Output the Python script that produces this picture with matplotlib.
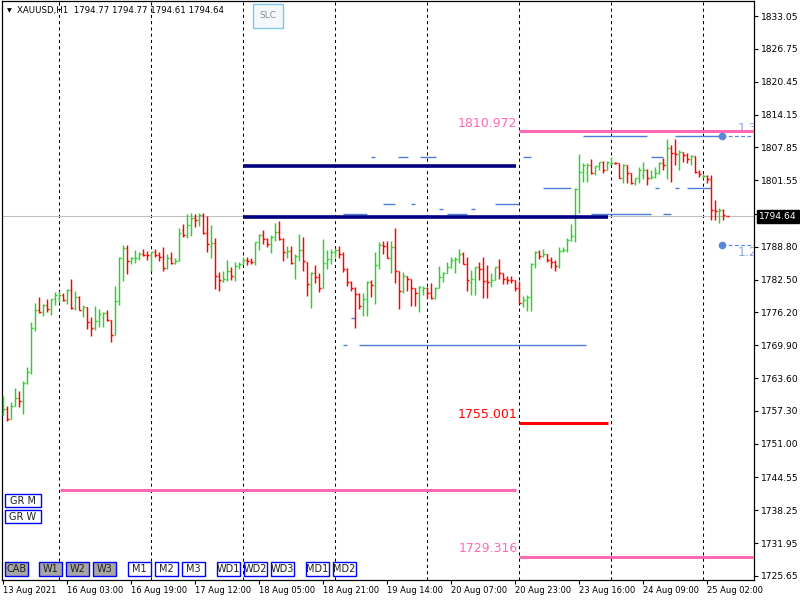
import matplotlib
matplotlib.use("Agg")
import matplotlib.pyplot as plt
import matplotlib.transforms as mtransforms
from matplotlib.collections import LineCollection
from matplotlib.patches import Rectangle

# ── XAUUSD H1 bars (index 0 = first visible bar) ─────────────────────────
opens = [
    1756.8, 1757.6, 1755.8, 1758.3, 1759.7, 1759.2, 1762.7, 1764.7, 1773.3, 1776.6,
    1776.3, 1777.6, 1776.8, 1778.7, 1778.9, 1779.5, 1778.6, 1780.5, 1777.0, 1779.2,
    1776.7, 1777.2, 1774.4, 1773.2, 1774.6, 1775.4, 1776.0, 1774.7, 1771.9, 1778.3,
    1786.6, 1788.5, 1786.0, 1786.6, 1786.7, 1787.5, 1787.3, 1787.2, 1787.7, 1787.3,
    1786.8, 1784.8, 1786.6, 1785.7, 1786.1, 1792.0, 1791.0, 1792.9, 1794.4, 1793.9,
    1794.8, 1791.5, 1789.0, 1789.5, 1783.2, 1782.3, 1782.6, 1784.1, 1783.1, 1785.1,
    1785.4, 1786.3, 1786.1, 1785.9, 1789.8, 1791.1, 1790.3, 1789.3, 1790.7, 1791.6,
    1790.2, 1787.7, 1788.0, 1785.6, 1787.0, 1788.1, 1785.8, 1781.6, 1783.8, 1782.9,
    1780.8, 1785.6, 1786.4, 1787.7, 1788.2, 1787.4, 1784.5, 1782.0, 1780.8, 1779.8,
    1777.4, 1778.7, 1782.0, 1781.4, 1785.2, 1789.2, 1788.9, 1786.7, 1788.7, 1784.1,
    1780.4, 1783.1, 1782.6, 1780.8, 1780.0, 1780.5, 1780.9, 1780.0, 1778.9, 1780.9,
    1782.9, 1783.8, 1785.0, 1786.2, 1786.4, 1787.5, 1785.5, 1782.0, 1782.6, 1785.0,
    1784.5, 1782.2, 1782.0, 1782.4, 1784.9, 1783.7, 1782.6, 1782.5, 1782.4, 1780.8,
    1778.1, 1778.6, 1779.1, 1785.5, 1787.7, 1787.1, 1787.5, 1786.2, 1785.9, 1785.1,
    1788.0, 1788.2, 1790.1, 1790.9, 1799.8, 1803.1, 1803.0, 1804.5, 1803.0, 1804.2,
    1805.0, 1803.6, 1804.6, 1804.9, 1804.8, 1801.9, 1804.4, 1803.0, 1801.0, 1801.9,
    1802.5, 1803.5, 1801.9, 1802.1, 1803.0, 1804.8, 1804.5, 1807.7, 1806.7, 1806.6,
    1807.0, 1806.4, 1805.6, 1806.2, 1803.2, 1802.2, 1802.4, 1801.7, 1795.8, 1795.7,
    1795.9, 1794.77,
]
highs = [
    1760.2, 1758.3, 1759.1, 1761.8, 1761.1, 1763.0, 1765.8, 1774.4, 1778.1, 1779.2,
    1777.8, 1778.8, 1778.8, 1780.1, 1780.4, 1779.9, 1780.6, 1782.6, 1780.4, 1779.3,
    1777.6, 1777.2, 1775.4, 1777.4, 1776.8, 1776.2, 1776.6, 1774.8, 1781.3, 1786.8,
    1789.2, 1789.2, 1786.9, 1788.2, 1787.7, 1788.3, 1788.0, 1787.7, 1788.3, 1787.7,
    1788.7, 1787.5, 1787.7, 1786.7, 1792.4, 1793.2, 1795.0, 1795.2, 1795.1, 1795.3,
    1795.3, 1794.6, 1793.0, 1790.5, 1784.0, 1784.1, 1786.2, 1784.9, 1785.8, 1785.9,
    1786.8, 1786.8, 1786.6, 1789.8, 1791.3, 1792.1, 1790.5, 1791.1, 1793.3, 1793.7,
    1790.5, 1788.9, 1788.9, 1787.4, 1791.2, 1790.7, 1785.9, 1783.9, 1785.3, 1783.8,
    1790.3, 1788.2, 1788.4, 1788.5, 1788.9, 1787.7, 1784.7, 1782.2, 1781.0, 1779.9,
    1779.9, 1782.2, 1782.4, 1787.8, 1789.7, 1789.9, 1789.9, 1789.9, 1792.3, 1784.2,
    1783.9, 1783.2, 1782.7, 1780.8, 1781.3, 1781.3, 1781.0, 1781.9, 1781.0, 1785.1,
    1783.9, 1785.8, 1786.9, 1786.8, 1788.4, 1787.7, 1786.8, 1784.4, 1785.0, 1785.9,
    1786.8, 1785.3, 1783.7, 1785.0, 1786.5, 1783.7, 1783.1, 1783.2, 1782.5, 1782.2,
    1779.4, 1779.6, 1785.7, 1788.0, 1788.2, 1788.4, 1787.5, 1786.8, 1786.3, 1788.7,
    1788.7, 1790.5, 1793.2, 1800.0, 1806.5, 1804.8, 1804.8, 1805.6, 1804.3, 1805.1,
    1805.3, 1805.2, 1806.1, 1805.1, 1804.9, 1804.6, 1804.4, 1803.0, 1801.9, 1804.0,
    1805.0, 1803.8, 1803.5, 1804.0, 1805.0, 1805.8, 1809.4, 1808.3, 1809.4, 1807.4,
    1807.0, 1806.7, 1806.4, 1806.2, 1803.5, 1802.7, 1802.6, 1802.6, 1797.8, 1796.2,
    1796.0, 1794.77,
]
lows = [
    1756.5, 1755.4, 1755.8, 1758.3, 1758.1, 1756.8, 1762.4, 1764.4, 1772.6, 1776.1,
    1775.6, 1776.3, 1775.8, 1777.7, 1778.2, 1778.3, 1777.9, 1776.9, 1776.7, 1776.6,
    1775.3, 1773.0, 1771.7, 1772.8, 1773.4, 1773.4, 1774.5, 1770.6, 1771.8, 1777.6,
    1782.3, 1783.6, 1785.4, 1785.6, 1786.3, 1787.1, 1786.3, 1784.1, 1786.8, 1786.1,
    1784.2, 1784.6, 1785.5, 1785.4, 1786.0, 1790.7, 1790.5, 1790.9, 1792.5, 1792.8,
    1791.2, 1787.8, 1786.6, 1780.7, 1780.4, 1782.1, 1782.2, 1782.4, 1782.2, 1784.6,
    1785.4, 1785.2, 1785.5, 1785.3, 1788.1, 1789.4, 1788.7, 1787.6, 1789.9, 1790.0,
    1786.1, 1786.7, 1785.4, 1782.7, 1786.1, 1784.2, 1779.4, 1777.1, 1781.9, 1780.2,
    1780.8, 1784.6, 1785.5, 1786.9, 1786.7, 1784.0, 1781.3, 1780.4, 1773.2, 1776.9,
    1775.6, 1775.6, 1779.2, 1777.8, 1784.6, 1787.5, 1786.7, 1783.7, 1781.9, 1776.9,
    1780.0, 1780.4, 1777.5, 1777.5, 1776.2, 1779.5, 1779.0, 1778.8, 1778.8, 1780.8,
    1782.0, 1783.7, 1784.8, 1783.7, 1785.6, 1785.5, 1780.4, 1779.5, 1779.5, 1782.4,
    1779.0, 1779.0, 1781.1, 1782.4, 1782.7, 1781.7, 1781.7, 1781.8, 1780.3, 1778.0,
    1777.2, 1776.4, 1776.4, 1784.7, 1786.4, 1786.8, 1785.8, 1784.7, 1784.2, 1784.7,
    1787.7, 1787.7, 1789.9, 1789.8, 1795.3, 1801.3, 1801.3, 1802.8, 1802.6, 1803.5,
    1803.0, 1803.5, 1804.6, 1804.6, 1801.9, 1801.1, 1801.1, 1800.8, 1800.6, 1801.1,
    1801.7, 1800.6, 1801.7, 1802.0, 1802.7, 1803.5, 1801.7, 1801.3, 1804.4, 1803.6,
    1805.1, 1804.8, 1804.5, 1803.0, 1802.2, 1801.9, 1801.0, 1793.9, 1793.9, 1793.4,
    1793.9, 1794.61,
]
closes = [
    1757.6, 1755.8, 1758.3, 1759.7, 1759.2, 1762.7, 1764.7, 1773.3, 1776.6, 1776.3,
    1777.6, 1776.8, 1778.7, 1779.5, 1779.5, 1778.6, 1780.5, 1777.0, 1779.2, 1776.7,
    1777.2, 1774.4, 1773.2, 1774.6, 1775.9, 1776.0, 1774.7, 1771.9, 1778.3, 1786.6,
    1788.5, 1786.0, 1786.6, 1786.7, 1787.5, 1787.3, 1787.2, 1787.7, 1787.3, 1786.8,
    1784.8, 1786.6, 1785.7, 1786.1, 1791.4, 1791.0, 1792.9, 1794.4, 1793.9, 1794.8,
    1791.5, 1789.4, 1789.5, 1783.2, 1782.5, 1782.6, 1784.1, 1783.1, 1785.1, 1785.4,
    1786.3, 1786.1, 1785.9, 1789.8, 1791.1, 1790.3, 1789.3, 1790.7, 1791.6, 1790.2,
    1787.7, 1788.0, 1785.6, 1787.0, 1788.1, 1786.0, 1781.6, 1783.8, 1782.9, 1780.8,
    1785.6, 1786.4, 1787.7, 1788.2, 1787.4, 1784.5, 1782.0, 1780.8, 1779.8, 1777.4,
    1778.7, 1782.0, 1781.4, 1785.2, 1789.1, 1788.9, 1786.7, 1788.7, 1784.1, 1780.4,
    1783.1, 1782.6, 1780.8, 1780.0, 1781.1, 1780.9, 1780.0, 1778.9, 1780.9, 1782.9,
    1783.8, 1785.0, 1786.2, 1786.4, 1787.5, 1785.5, 1782.4, 1782.6, 1785.0, 1784.5,
    1782.2, 1782.0, 1782.4, 1784.9, 1783.7, 1782.6, 1782.5, 1782.4, 1780.8, 1778.1,
    1778.6, 1779.1, 1785.5, 1787.7, 1787.1, 1787.5, 1786.2, 1785.9, 1785.1, 1788.0,
    1788.2, 1790.1, 1790.9, 1799.8, 1803.1, 1804.5, 1804.5, 1803.0, 1804.2, 1805.0,
    1803.6, 1805.0, 1804.8, 1804.8, 1801.9, 1804.4, 1803.0, 1801.0, 1801.9, 1803.6,
    1803.5, 1801.9, 1802.1, 1803.0, 1804.8, 1804.5, 1807.7, 1806.7, 1806.6, 1807.0,
    1806.4, 1805.6, 1806.2, 1803.2, 1802.7, 1802.4, 1801.7, 1795.8, 1795.7, 1795.9,
    1794.9, 1794.64,
]

last_price = 1794.64
header = "XAUUSD,H1  1794.77 1794.77 1794.61 1794.64"

day_starts = [14, 37, 60, 83, 106, 129, 152, 175]
date_ticks = [0, 16, 32, 48, 64, 80, 96, 112, 128, 144, 160, 176]
date_labels = ["13 Aug 2021", "16 Aug 03:00", "16 Aug 19:00", "17 Aug 12:00",
               "18 Aug 05:00", "18 Aug 21:00", "19 Aug 14:00", "20 Aug 07:00",
               "20 Aug 23:00", "23 Aug 16:00", "24 Aug 09:00", "25 Aug 02:00"]
# the 1795.10 tick sits under the bid-price box, so it keeps its tick mark only
price_ticks = [1833.05, 1826.75, 1820.45, 1814.15, 1807.85, 1801.55, 1795.10,
               1788.80, 1782.50, 1776.20, 1769.90, 1763.60, 1757.30, 1751.00,
               1744.55, 1738.25, 1731.95, 1725.65]
hidden_tick = 1795.10

# drawn objects (levels in price, extents in bar index)
navy_levels = [1804.28, 1794.50]
navy_from = [60, 60]
navy_to = [128.25, 151.25]

pink_levels = [1810.972, 1742.14, 1729.316]
pink_from = [129, 14.25, 129]
pink_to = [187.75, 128.25, 187.75]
pink_labels = ["1810.972", "", "1729.316"]

red_level = 1755.001
red_from, red_to = 129, 151.25

blue_levels = [1810.04, 1810.04,
               1805.95, 1805.95, 1805.95, 1805.95, 1805.95,
               1799.99, 1799.99, 1799.99, 1799.99,
               1796.94, 1796.94, 1796.94,
               1795.98, 1795.98,
               1795.02, 1795.02, 1795.02, 1795.02,
               1775.14, 1769.95, 1769.95]
blue_from = [145, 168,
             92, 98.75, 104.25, 130, 162,
             135, 163, 168, 171,
             95, 102, 123,
             109, 117,
             85, 111, 147, 165,
             87, 85, 89]
blue_to = [161, 179.75,
           93, 101.25, 108.25, 132, 165,
           142, 164, 169, 177,
           98, 103, 129,
           110, 118,
           91, 116, 162, 167,
           88, 86, 145.75]

fib_x = 179.75
fib_levels = [1810.04, 1789.13]
fib_labels = ["1.32", "1.20"]

bottom_buttons = ["CAB", "W1", "W2", "W3", "M1", "M2", "M3",
                  "WD1", "WD2", "WD3", "MD1", "MD2"]
bottom_button_x = [5, 39, 66, 93, 128, 155, 182, 217, 244, 271, 306, 333]
grey_buttons = {"CAB", "W1", "W2", "W3"}

BULL, BEAR = "#32CD32", "#FF0000"
PINK, NAVY, BLUE = "#FF69B4", "#000080", "#4D7FD6"
X_RIGHT = 187.625

fig = plt.figure(figsize=(8, 6), dpi=100)
ax = fig.add_axes([2 / 800, 20 / 600, 752 / 800, 579 / 600])
# half-pixel offset keeps each bar on a pixel centre
ax.set_xlim(-0.375, X_RIGHT)
ax.set_ylim(1724.88, 1835.93)

# ── day separators + bid line ─────────────────────────────────────────────
for d in day_starts:
    ax.axvline(d, color="black", lw=0.75, ls=(0, (3, 3)), zorder=1)
ax.axhline(last_price, color="#C0C0C0", lw=0.75, zorder=1)

# ── OHLC bars ────────────────────────────────────────────────────────────
segs, cols = [], []
for i, (o, h, l, c) in enumerate(zip(opens, highs, lows, closes)):
    col = BULL if c >= o else BEAR
    segs += [[(i, l), (i, h)], [(i - 0.45, o), (i, o)], [(i, c), (i + 0.45, c)]]
    cols += [col] * 3
ax.add_collection(LineCollection(segs, colors=cols, linewidths=1.05,
                                 capstyle="butt", zorder=3))

# ── thin blue levels ─────────────────────────────────────────────────────
ax.hlines(blue_levels, blue_from, blue_to, colors=BLUE, lw=1.0, zorder=2)

# ── navy / pink / red levels ─────────────────────────────────────────────
ax.hlines(navy_levels, navy_from, navy_to, colors=NAVY, lw=2.6, zorder=4)
ax.hlines(pink_levels, pink_from, pink_to, colors=PINK, lw=2.2, zorder=4)
for lev, x0, lab in zip(pink_levels, pink_from, pink_labels):
    if lab:
        ax.text(x0 - 0.5, lev + 0.3, lab, ha="right", va="bottom",
                color=PINK, fontsize=9)
ax.hlines([red_level], [red_from], [red_to], colors="#FF0000", lw=2.2, zorder=4)
ax.text(red_from - 0.5, red_level + 0.3, f"{red_level:.3f}", ha="right",
        va="bottom", color="#FF0000", fontsize=9)

# ── projection markers ───────────────────────────────────────────────────
for lev, lab, va in zip(fib_levels, fib_labels, ["bottom", "top"]):
    ax.hlines([lev], [fib_x], [X_RIGHT], colors="#5A87D8", lw=0.9,
              linestyles=[(0, (3, 2))], zorder=5)
    ax.plot([fib_x], [lev], "o", ms=4.5, color="#5A87D8", zorder=6)
    ax.text(183.5, lev + (0.2 if va == "bottom" else -0.2), lab, ha="left",
            va=va, color="#8FA8E0", fontsize=9, clip_on=True)

# ── axes ─────────────────────────────────────────────────────────────────
ax.yaxis.tick_right()
ax.set_yticks(price_ticks)
ax.set_yticklabels(["" if v == hidden_tick else f"{v:.2f}" for v in price_ticks])
ax.set_xticks(date_ticks)
ax.set_xticklabels(date_labels, ha="left")
ax.tick_params(axis="y", labelsize=6.6, length=3, width=0.8, pad=2)
ax.tick_params(axis="x", labelsize=6.0, length=3, width=0.8, pad=1)
for s in ax.spines.values():
    s.set_linewidth(0.9)

trans = mtransforms.blended_transform_factory(ax.transAxes, ax.transData)
ax.text(1.0 + 5 / 752, last_price, f"{last_price:.2f}", transform=trans,
        ha="left", va="center", color="white", fontsize=6.6, zorder=10,
        bbox=dict(facecolor="black", edgecolor="black", pad=1.6))

# ── overlay in pixel coordinates: header and buttons ─────────────────────
ov = fig.add_axes([0, 0, 1, 1])
ov.set_xlim(0, 800)
ov.set_ylim(600, 0)
ov.axis("off")
ov.patch.set_alpha(0)

ov.text(7, 11, "▼", fontsize=4.5, va="center", ha="left")
ov.text(17, 11, header, fontsize=6.2, va="center", ha="left")

slc = Rectangle((253, 4), 30, 24, facecolor="#F4F8FB", edgecolor="#7FC8E8", lw=1)
ov.add_patch(slc)
ov.text(268, 16, "SLC", fontsize=6.5, color="#8C8C8C", ha="center", va="center")


def button(x, y, w, h, label, fill):
    r = Rectangle((x, y), w, h, facecolor=fill, edgecolor="#0000FF", lw=1)
    ov.add_patch(r)
    t = ov.text(x + w / 2, y + h / 2 + 0.5, label, fontsize=7, ha="center",
                va="center", color="#202020")
    t.set_clip_path(r)


button(5, 494, 36, 13, "GR M", "white")
button(5, 510, 36, 13, "GR W", "white")
for lab, bx in zip(bottom_buttons, bottom_button_x):
    button(bx, 562, 23, 14, lab, "#A6A6A6" if lab in grey_buttons else "white")

fig.savefig("out.png", dpi=100)
